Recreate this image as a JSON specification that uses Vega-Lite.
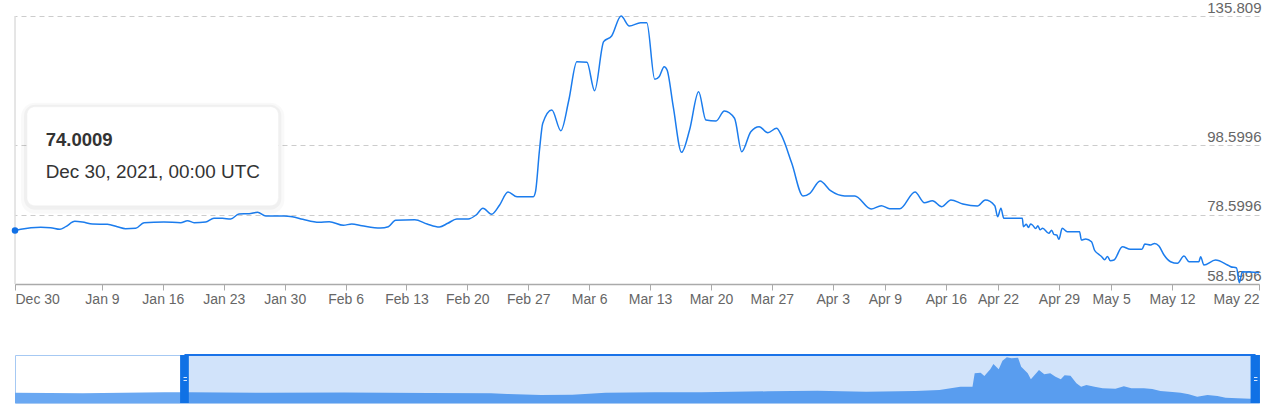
{
  "$schema": "https://vega.github.io/schema/vega-lite/v6.json",
  "background": "white",
  "padding": {"left": 11, "top": 0, "right": 0, "bottom": 0},
  "bounds": "flush",
  "spacing": 71,
  "config": {"view": {"stroke": null}, "font": "Liberation Sans"},
  "datasets": {
    "series": [
      {"t": "2021-12-30T00:00Z", "v": 74.0009},
      {"t": "2021-12-30T16:00Z", "v": 74.36},
      {"t": "2022-01-01T23:00Z", "v": 74.93},
      {"t": "2022-01-03T02:00Z", "v": 74.82},
      {"t": "2022-01-04T04:00Z", "v": 74.36},
      {"t": "2022-01-04T20:00Z", "v": 75.11},
      {"t": "2022-01-05T21:00Z", "v": 76.66},
      {"t": "2022-01-06T18:00Z", "v": 76.46},
      {"t": "2022-01-07T22:00Z", "v": 75.89},
      {"t": "2022-01-09T15:00Z", "v": 75.8},
      {"t": "2022-01-10T18:00Z", "v": 75.11},
      {"t": "2022-01-11T17:00Z", "v": 74.53},
      {"t": "2022-01-12T21:00Z", "v": 74.65},
      {"t": "2022-01-13T20:00Z", "v": 76.26},
      {"t": "2022-01-16T03:00Z", "v": 76.46},
      {"t": "2022-01-18T01:00Z", "v": 76.26},
      {"t": "2022-01-18T20:00Z", "v": 76.84},
      {"t": "2022-01-19T14:00Z", "v": 76.26},
      {"t": "2022-01-20T22:00Z", "v": 76.46},
      {"t": "2022-01-21T21:00Z", "v": 77.53},
      {"t": "2022-01-22T20:00Z", "v": 77.53},
      {"t": "2022-01-23T19:00Z", "v": 77.33},
      {"t": "2022-01-24T18:00Z", "v": 78.77},
      {"t": "2022-01-25T22:00Z", "v": 78.85},
      {"t": "2022-01-26T21:00Z", "v": 79.26},
      {"t": "2022-01-27T20:00Z", "v": 78.19},
      {"t": "2022-01-29T22:00Z", "v": 78.19},
      {"t": "2022-01-30T21:00Z", "v": 77.99},
      {"t": "2022-02-01T02:00Z", "v": 77.24},
      {"t": "2022-02-02T23:00Z", "v": 76.38},
      {"t": "2022-02-04T03:00Z", "v": 76.55},
      {"t": "2022-02-05T18:00Z", "v": 75.51},
      {"t": "2022-02-06T17:00Z", "v": 75.89},
      {"t": "2022-02-07T21:00Z", "v": 75.4},
      {"t": "2022-02-10T00:00Z", "v": 74.73},
      {"t": "2022-02-10T22:00Z", "v": 75.11},
      {"t": "2022-02-11T18:00Z", "v": 76.95},
      {"t": "2022-02-13T23:00Z", "v": 77.12},
      {"t": "2022-02-15T09:00Z", "v": 75.89},
      {"t": "2022-02-16T19:00Z", "v": 75.02},
      {"t": "2022-02-17T18:00Z", "v": 76.09},
      {"t": "2022-02-18T19:00Z", "v": 77.33},
      {"t": "2022-02-20T02:00Z", "v": 77.33},
      {"t": "2022-02-21T00:00Z", "v": 78.48},
      {"t": "2022-02-21T19:00Z", "v": 80.41},
      {"t": "2022-02-22T19:00Z", "v": 78.68},
      {"t": "2022-02-23T17:00Z", "v": 81.36},
      {"t": "2022-02-24T16:00Z", "v": 85.11},
      {"t": "2022-02-25T17:00Z", "v": 83.75},
      {"t": "2022-02-27T14:00Z", "v": 83.75},
      {"t": "2022-02-27T20:00Z", "v": 85.19},
      {"t": "2022-02-28T07:00Z", "v": 97.2},
      {"t": "2022-02-28T16:00Z", "v": 104.9},
      {"t": "2022-03-01T17:00Z", "v": 108.73},
      {"t": "2022-03-02T18:00Z", "v": 102.77},
      {"t": "2022-03-03T16:00Z", "v": 111.61},
      {"t": "2022-03-04T14:00Z", "v": 122.64},
      {"t": "2022-03-05T18:00Z", "v": 122.47},
      {"t": "2022-03-06T15:00Z", "v": 114.29},
      {"t": "2022-03-07T16:00Z", "v": 128.41},
      {"t": "2022-03-08T14:00Z", "v": 130.05},
      {"t": "2022-03-09T16:00Z", "v": 135.8},
      {"t": "2022-03-10T15:00Z", "v": 132.93},
      {"t": "2022-03-11T22:00Z", "v": 133.88},
      {"t": "2022-03-12T15:00Z", "v": 133.88},
      {"t": "2022-03-13T13:00Z", "v": 117.57},
      {"t": "2022-03-14T01:00Z", "v": 118.32},
      {"t": "2022-03-14T15:00Z", "v": 121.2},
      {"t": "2022-03-14T23:00Z", "v": 120.25},
      {"t": "2022-03-15T16:00Z", "v": 109.68},
      {"t": "2022-03-16T15:00Z", "v": 96.54},
      {"t": "2022-03-17T13:00Z", "v": 102.97},
      {"t": "2022-03-18T14:00Z", "v": 114.0},
      {"t": "2022-03-19T10:00Z", "v": 105.85},
      {"t": "2022-03-20T14:00Z", "v": 105.56},
      {"t": "2022-03-21T13:00Z", "v": 108.44},
      {"t": "2022-03-22T17:00Z", "v": 106.34},
      {"t": "2022-03-23T13:00Z", "v": 96.72},
      {"t": "2022-03-24T14:00Z", "v": 102.48},
      {"t": "2022-03-25T13:00Z", "v": 103.92},
      {"t": "2022-03-26T13:00Z", "v": 102.19},
      {"t": "2022-03-27T13:00Z", "v": 103.46},
      {"t": "2022-03-28T02:00Z", "v": 101.53},
      {"t": "2022-03-29T07:00Z", "v": 93.37},
      {"t": "2022-03-30T14:00Z", "v": 83.95},
      {"t": "2022-03-31T09:00Z", "v": 84.73},
      {"t": "2022-04-01T13:00Z", "v": 88.27},
      {"t": "2022-04-02T18:00Z", "v": 85.48},
      {"t": "2022-04-04T09:00Z", "v": 83.95},
      {"t": "2022-04-05T13:00Z", "v": 83.95},
      {"t": "2022-04-07T10:00Z", "v": 80.21},
      {"t": "2022-04-08T14:00Z", "v": 81.16},
      {"t": "2022-04-09T13:00Z", "v": 80.29},
      {"t": "2022-04-10T17:00Z", "v": 80.29},
      {"t": "2022-04-12T11:00Z", "v": 85.11},
      {"t": "2022-04-13T13:00Z", "v": 82.02},
      {"t": "2022-04-14T11:00Z", "v": 82.6},
      {"t": "2022-04-15T13:00Z", "v": 80.87},
      {"t": "2022-04-16T14:00Z", "v": 82.8},
      {"t": "2022-04-17T23:00Z", "v": 81.65},
      {"t": "2022-04-19T15:00Z", "v": 81.07},
      {"t": "2022-04-20T13:00Z", "v": 82.8},
      {"t": "2022-04-21T15:00Z", "v": 81.16},
      {"t": "2022-04-21T23:00Z", "v": 77.99},
      {"t": "2022-04-22T08:00Z", "v": 80.41},
      {"t": "2022-04-22T16:00Z", "v": 77.53},
      {"t": "2022-04-24T19:00Z", "v": 77.53},
      {"t": "2022-04-24T22:00Z", "v": 75.11},
      {"t": "2022-04-25T06:00Z", "v": 75.8},
      {"t": "2022-04-25T12:00Z", "v": 74.9},
      {"t": "2022-04-25T18:00Z", "v": 75.9},
      {"t": "2022-04-25T23:00Z", "v": 75.6},
      {"t": "2022-04-26T08:00Z", "v": 74.6},
      {"t": "2022-04-26T14:00Z", "v": 75.4},
      {"t": "2022-04-26T20:00Z", "v": 74.2},
      {"t": "2022-04-27T03:00Z", "v": 74.65},
      {"t": "2022-04-27T20:00Z", "v": 73.21},
      {"t": "2022-04-28T04:00Z", "v": 74.1},
      {"t": "2022-04-28T10:00Z", "v": 72.9},
      {"t": "2022-04-28T18:00Z", "v": 72.72},
      {"t": "2022-04-29T00:00Z", "v": 71.48},
      {"t": "2022-04-29T09:00Z", "v": 74.65},
      {"t": "2022-04-29T23:00Z", "v": 73.67},
      {"t": "2022-05-01T09:00Z", "v": 73.67},
      {"t": "2022-05-01T14:00Z", "v": 71.28},
      {"t": "2022-05-02T02:00Z", "v": 71.6},
      {"t": "2022-05-02T18:00Z", "v": 70.79},
      {"t": "2022-05-03T02:00Z", "v": 68.4},
      {"t": "2022-05-03T12:00Z", "v": 67.3},
      {"t": "2022-05-03T22:00Z", "v": 66.46},
      {"t": "2022-05-04T06:00Z", "v": 65.6},
      {"t": "2022-05-04T14:00Z", "v": 66.5},
      {"t": "2022-05-04T22:00Z", "v": 65.3},
      {"t": "2022-05-05T08:00Z", "v": 65.51},
      {"t": "2022-05-06T07:00Z", "v": 69.35},
      {"t": "2022-05-07T05:00Z", "v": 68.6},
      {"t": "2022-05-08T13:00Z", "v": 68.6},
      {"t": "2022-05-08T21:00Z", "v": 70.12},
      {"t": "2022-05-09T13:00Z", "v": 69.84},
      {"t": "2022-05-10T00:00Z", "v": 70.3},
      {"t": "2022-05-10T12:00Z", "v": 69.55},
      {"t": "2022-05-11T02:00Z", "v": 66.95},
      {"t": "2022-05-11T20:00Z", "v": 65.02},
      {"t": "2022-05-12T15:00Z", "v": 64.56},
      {"t": "2022-05-13T09:00Z", "v": 66.67},
      {"t": "2022-05-13T23:00Z", "v": 65.02},
      {"t": "2022-05-15T02:00Z", "v": 65.02},
      {"t": "2022-05-15T07:00Z", "v": 66.46},
      {"t": "2022-05-15T16:00Z", "v": 64.07},
      {"t": "2022-05-17T00:00Z", "v": 65.51},
      {"t": "2022-05-18T09:00Z", "v": 64.07},
      {"t": "2022-05-18T18:00Z", "v": 63.58},
      {"t": "2022-05-19T10:00Z", "v": 63.21},
      {"t": "2022-05-19T18:00Z", "v": 58.97},
      {"t": "2022-05-20T02:00Z", "v": 62.14},
      {"t": "2022-05-22T00:00Z", "v": 61.86}
    ],
    "nav": [
      {"t": "2021-12-07T09:00Z", "h": 10.3},
      {"t": "2021-12-16T10:00Z", "h": 9.7},
      {"t": "2021-12-27T07:00Z", "h": 10.7},
      {"t": "2021-12-30T14:00Z", "h": 10.7},
      {"t": "2022-01-09T22:00Z", "h": 10.3},
      {"t": "2022-01-20T07:00Z", "h": 10.5},
      {"t": "2022-01-31T14:00Z", "h": 10.0},
      {"t": "2022-02-08T22:00Z", "h": 9.7},
      {"t": "2022-02-11T02:00Z", "h": 9.0},
      {"t": "2022-02-15T14:00Z", "h": 8.0},
      {"t": "2022-02-19T19:00Z", "h": 8.3},
      {"t": "2022-02-24T05:00Z", "h": 10.3},
      {"t": "2022-03-02T17:00Z", "h": 10.7},
      {"t": "2022-03-09T00:00Z", "h": 10.7},
      {"t": "2022-03-17T22:00Z", "h": 11.7},
      {"t": "2022-03-24T12:00Z", "h": 12.3},
      {"t": "2022-03-31T00:00Z", "h": 11.3},
      {"t": "2022-04-06T14:00Z", "h": 12.0},
      {"t": "2022-04-09T19:00Z", "h": 13.0},
      {"t": "2022-04-12T14:00Z", "h": 16.3},
      {"t": "2022-04-14T05:00Z", "h": 16.3},
      {"t": "2022-04-14T12:00Z", "h": 29.7},
      {"t": "2022-04-15T07:00Z", "h": 30.3},
      {"t": "2022-04-15T19:00Z", "h": 27.0},
      {"t": "2022-04-16T14:00Z", "h": 33.7},
      {"t": "2022-04-17T00:00Z", "h": 39.0},
      {"t": "2022-04-17T17:00Z", "h": 33.7},
      {"t": "2022-04-18T05:00Z", "h": 42.3},
      {"t": "2022-04-18T19:00Z", "h": 45.7},
      {"t": "2022-04-19T10:00Z", "h": 44.7},
      {"t": "2022-04-20T07:00Z", "h": 45.3},
      {"t": "2022-04-20T17:00Z", "h": 36.3},
      {"t": "2022-04-21T14:00Z", "h": 29.7},
      {"t": "2022-04-22T00:00Z", "h": 23.7},
      {"t": "2022-04-22T17:00Z", "h": 29.7},
      {"t": "2022-04-23T02:00Z", "h": 33.0},
      {"t": "2022-04-23T19:00Z", "h": 28.7},
      {"t": "2022-04-24T14:00Z", "h": 29.7},
      {"t": "2022-04-25T07:00Z", "h": 26.3},
      {"t": "2022-04-26T00:00Z", "h": 23.7},
      {"t": "2022-04-26T12:00Z", "h": 27.7},
      {"t": "2022-04-27T07:00Z", "h": 27.3},
      {"t": "2022-04-28T02:00Z", "h": 19.7},
      {"t": "2022-04-28T17:00Z", "h": 16.3},
      {"t": "2022-04-29T10:00Z", "h": 18.0},
      {"t": "2022-04-30T12:00Z", "h": 16.3},
      {"t": "2022-05-01T14:00Z", "h": 14.7},
      {"t": "2022-05-03T07:00Z", "h": 14.3},
      {"t": "2022-05-04T10:00Z", "h": 16.7},
      {"t": "2022-05-05T10:00Z", "h": 14.7},
      {"t": "2022-05-07T02:00Z", "h": 14.7},
      {"t": "2022-05-08T05:00Z", "h": 14.0},
      {"t": "2022-05-09T07:00Z", "h": 12.0},
      {"t": "2022-05-10T22:00Z", "h": 11.0},
      {"t": "2022-05-12T00:00Z", "h": 10.3},
      {"t": "2022-05-13T02:00Z", "h": 8.7},
      {"t": "2022-05-14T05:00Z", "h": 6.3},
      {"t": "2022-05-15T14:00Z", "h": 8.0},
      {"t": "2022-05-16T22:00Z", "h": 7.0},
      {"t": "2022-05-18T00:00Z", "h": 5.3},
      {"t": "2022-05-19T14:00Z", "h": 4.7},
      {"t": "2022-05-21T07:00Z", "h": 4.3},
      {"t": "2022-05-22T11:00Z", "h": 4.3}
    ],
    "one": [{}]
  },
  "vconcat": [
    {
      "width": 1244,
      "height": 268,
      "layer": [
        {
          "data": {"name": "one"},
          "mark": {"type": "rule", "color": "#cccccc", "strokeWidth": 1},
          "encoding": {
            "x": {"datum": {"year": 2021, "month": 12, "date": 30, "utc": true}, "type": "temporal"},
            "y": {"datum": 58.5996, "type": "quantitative"},
            "y2": {"datum": 135.809}
          }
        },
        {
          "data": {"name": "series"},
          "mark": {"type": "line", "interpolate": "monotone", "color": "#1b7ced", "strokeWidth": 1.5},
          "encoding": {
            "x": {
              "field": "t", "type": "temporal",
              "scale": {"type": "utc", "domain": [{"year": 2021, "month": 12, "date": 30, "utc": true}, {"year": 2022, "month": 5, "date": 22, "utc": true}]},
              "axis": {
                "title": null,
                "values": [
                  {"year": 2021, "month": 12, "date": 30, "utc": true},
                  {"year": 2022, "month": 1, "date": 9, "utc": true},
                  {"year": 2022, "month": 1, "date": 16, "utc": true},
                  {"year": 2022, "month": 1, "date": 23, "utc": true},
                  {"year": 2022, "month": 1, "date": 30, "utc": true},
                  {"year": 2022, "month": 2, "date": 6, "utc": true},
                  {"year": 2022, "month": 2, "date": 13, "utc": true},
                  {"year": 2022, "month": 2, "date": 20, "utc": true},
                  {"year": 2022, "month": 2, "date": 27, "utc": true},
                  {"year": 2022, "month": 3, "date": 6, "utc": true},
                  {"year": 2022, "month": 3, "date": 13, "utc": true},
                  {"year": 2022, "month": 3, "date": 20, "utc": true},
                  {"year": 2022, "month": 3, "date": 27, "utc": true},
                  {"year": 2022, "month": 4, "date": 3, "utc": true},
                  {"year": 2022, "month": 4, "date": 9, "utc": true},
                  {"year": 2022, "month": 4, "date": 16, "utc": true},
                  {"year": 2022, "month": 4, "date": 22, "utc": true},
                  {"year": 2022, "month": 4, "date": 29, "utc": true},
                  {"year": 2022, "month": 5, "date": 5, "utc": true},
                  {"year": 2022, "month": 5, "date": 12, "utc": true},
                  {"year": 2022, "month": 5, "date": 22, "utc": true}
                ],
                "format": "%b %-d",
                "labelFlush": true,
                "labelOverlap": false,
                "labelBound": false,
                "labelColor": "#666666",
                "labelFontSize": 14,
                "labelPadding": 2,
                "domainColor": "#aaaaaa",
                "domainWidth": 1.5,
                "tickColor": "#aaaaaa",
                "tickSize": 6,
                "grid": false
              }
            },
            "y": {
              "field": "v", "type": "quantitative",
              "scale": {"domain": [58.5996, 135.809], "nice": false, "zero": false},
              "axis": {
                "title": null,
                "orient": "right",
                "values": [58.5996, 78.5996, 98.5996, 135.809],
                "labelExpr": "'' + datum.value",
                "domain": false,
                "ticks": false,
                "grid": true,
                "gridColor": "#cccccc",
                "gridDash": [5, 4],
                "labelAlign": "right",
                "labelBaseline": "alphabetic",
                "labelPadding": 2,
                "labelOffset": -4,
                "labelColor": "#666666",
                "labelFontSize": 15,
                "labelOverlap": false,
                "labelBound": false
              }
            }
          }
        },
        {
          "data": {"name": "series"},
          "transform": [{"filter": "datum.v == 74.0009"}],
          "mark": {"type": "point", "filled": true, "size": 42, "color": "#1070e6", "opacity": 1},
          "encoding": {
            "x": {"field": "t", "type": "temporal"},
            "y": {"field": "v", "type": "quantitative"}
          }
        },
        {
          "data": {"name": "one"},
          "mark": {"type": "rect", "color": "#000000", "opacity": 0.025, "cornerRadius": 14},
          "encoding": {
            "x": {"datum": {"year": 2021, "month": 12, "date": 30, "hours": 16, "minutes": 33, "utc": true}, "type": "temporal"},
            "x2": {"datum": {"year": 2022, "month": 1, "date": 29, "hours": 23, "minutes": 17, "utc": true}},
            "y": {"datum": 110.83, "type": "quantitative"},
            "y2": {"datum": 78.85}
          }
        },
        {
          "data": {"name": "one"},
          "mark": {"type": "rect", "color": "#000000", "opacity": 0.035, "cornerRadius": 11},
          "encoding": {
            "x": {"datum": {"year": 2021, "month": 12, "date": 31, "hours": 0, "minutes": 49, "utc": true}, "type": "temporal"},
            "x2": {"datum": {"year": 2022, "month": 1, "date": 29, "hours": 14, "minutes": 53, "utc": true}},
            "y": {"datum": 110.25, "type": "quantitative"},
            "y2": {"datum": 80.0}
          }
        },
        {
          "data": {"name": "one"},
          "mark": {"type": "rect", "fill": "#ffffff", "stroke": "#f0f0f0", "strokeWidth": 0.5, "opacity": 1, "cornerRadius": 8},
          "encoding": {
            "x": {"datum": {"year": 2021, "month": 12, "date": 31, "hours": 9, "minutes": 6, "utc": true}, "type": "temporal"},
            "x2": {"datum": {"year": 2022, "month": 1, "date": 29, "hours": 6, "minutes": 43, "utc": true}},
            "y": {"datum": 109.679, "type": "quantitative"},
            "y2": {"datum": 81.158}
          }
        },
        {
          "data": {"name": "one"},
          "mark": {"type": "text", "align": "left", "baseline": "alphabetic", "fontSize": 18.5, "fontWeight": "bold", "color": "#333333"},
          "encoding": {
            "x": {"datum": {"year": 2022, "month": 1, "date": 2, "hours": 12, "minutes": 42, "utc": true}, "type": "temporal"},
            "y": {"datum": 98.44, "type": "quantitative"},
            "text": {"value": "74.0009"}
          }
        },
        {
          "data": {"name": "one"},
          "mark": {"type": "text", "align": "left", "baseline": "alphabetic", "fontSize": 18.9, "color": "#333333"},
          "encoding": {
            "x": {"datum": {"year": 2022, "month": 1, "date": 2, "hours": 12, "minutes": 42, "utc": true}, "type": "temporal"},
            "y": {"datum": 89.05, "type": "quantitative"},
            "text": {"value": "Dec 30, 2021, 00:00 UTC"}
          }
        }
      ]
    },
    {
      "width": 1244,
      "height": 48,
      "view": {"stroke": "#a6c9f3", "strokeWidth": 1},
      "layer": [
        {
          "data": {"name": "nav"},
          "mark": {"type": "area", "color": "#6aa8f2", "opacity": 1},
          "encoding": {
            "x": {"field": "t", "type": "temporal", "axis": null,
              "scale": {"type": "utc", "domain": [{"year": 2021, "month": 12, "date": 7, "hours": 9, "utc": true}, {"year": 2022, "month": 5, "date": 22, "hours": 11, "utc": true}]}},
            "y": {"field": "h", "type": "quantitative", "axis": null, "scale": {"domain": [0, 48], "nice": false, "zero": true}}
          }
        },
        {
          "data": {"name": "one"},
          "mark": {"type": "rect", "color": "#1a73e8", "opacity": 0.2},
          "encoding": {
            "x": {"datum": {"year": 2021, "month": 12, "date": 30, "utc": true}, "type": "temporal"},
            "x2": {"datum": {"year": 2022, "month": 5, "date": 22, "utc": true}},
            "y": {"datum": 0, "type": "quantitative"},
            "y2": {"datum": 48}
          }
        },
        {
          "data": {"name": "one"},
          "mark": {"type": "rule", "color": "#1a73e8", "strokeWidth": 2},
          "encoding": {
            "x": {"datum": {"year": 2021, "month": 12, "date": 30, "utc": true}, "type": "temporal"},
            "x2": {"datum": {"year": 2022, "month": 5, "date": 22, "utc": true}},
            "y": {"datum": 48, "type": "quantitative"}
          }
        },
        {
          "data": {"name": "one"},
          "mark": {"type": "rect", "color": "#1071e5", "opacity": 1},
          "encoding": {
            "x": {"datum": {"year": 2021, "month": 12, "date": 29, "hours": 10, "utc": true}, "type": "temporal"},
            "x2": {"datum": {"year": 2021, "month": 12, "date": 30, "hours": 14, "utc": true}},
            "y": {"datum": 0, "type": "quantitative"},
            "y2": {"datum": 48}
          }
        },
        {
          "data": {"name": "one"},
          "mark": {"type": "rect", "color": "#1071e5", "opacity": 1},
          "encoding": {
            "x": {"datum": {"year": 2022, "month": 5, "date": 21, "hours": 8, "utc": true}, "type": "temporal"},
            "x2": {"datum": {"year": 2022, "month": 5, "date": 22, "hours": 14, "utc": true}},
            "y": {"datum": 0, "type": "quantitative"},
            "y2": {"datum": 48}
          }
        },
        {
          "data": {"name": "one"},
          "mark": {"type": "rule", "color": "#dce9fb", "strokeWidth": 1},
          "encoding": {
            "x": {"datum": {"year": 2021, "month": 12, "date": 29, "hours": 21, "utc": true}, "type": "temporal"},
            "x2": {"datum": {"year": 2021, "month": 12, "date": 30, "hours": 8, "utc": true}},
            "y": {"datum": 25.5, "type": "quantitative"}
          }
        },
        {
          "data": {"name": "one"},
          "mark": {"type": "rule", "color": "#dce9fb", "strokeWidth": 1},
          "encoding": {
            "x": {"datum": {"year": 2021, "month": 12, "date": 29, "hours": 21, "utc": true}, "type": "temporal"},
            "x2": {"datum": {"year": 2021, "month": 12, "date": 30, "hours": 8, "utc": true}},
            "y": {"datum": 22.5, "type": "quantitative"}
          }
        },
        {
          "data": {"name": "one"},
          "mark": {"type": "rule", "color": "#dce9fb", "strokeWidth": 1},
          "encoding": {
            "x": {"datum": {"year": 2022, "month": 5, "date": 21, "hours": 19, "utc": true}, "type": "temporal"},
            "x2": {"datum": {"year": 2022, "month": 5, "date": 22, "hours": 6, "utc": true}},
            "y": {"datum": 25.5, "type": "quantitative"}
          }
        },
        {
          "data": {"name": "one"},
          "mark": {"type": "rule", "color": "#dce9fb", "strokeWidth": 1},
          "encoding": {
            "x": {"datum": {"year": 2022, "month": 5, "date": 21, "hours": 19, "utc": true}, "type": "temporal"},
            "x2": {"datum": {"year": 2022, "month": 5, "date": 22, "hours": 6, "utc": true}},
            "y": {"datum": 22.5, "type": "quantitative"}
          }
        }
      ]
    }
  ]
}
